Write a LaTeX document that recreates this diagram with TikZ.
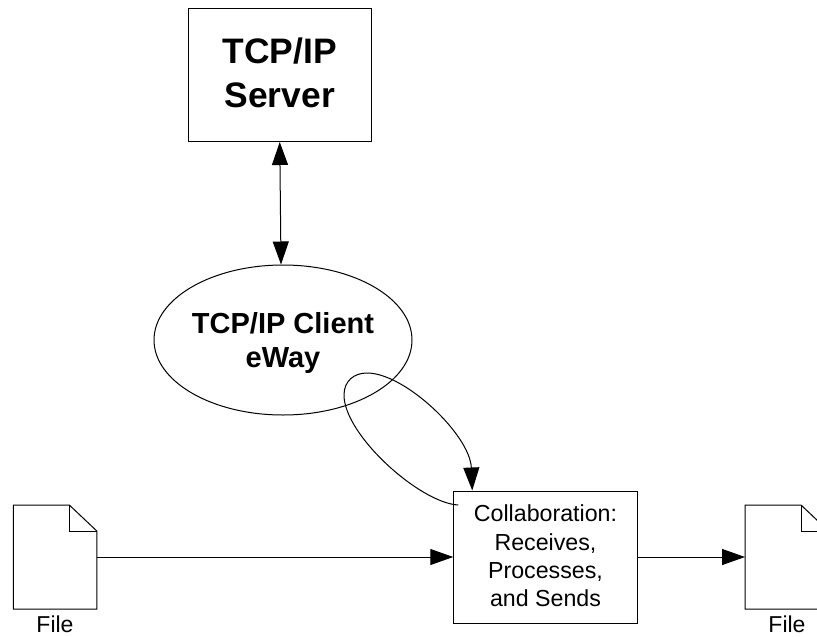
\documentclass[tikz,border=0pt]{standalone}
\usepackage{fontspec}
\setmainfont{Liberation Sans}
\usetikzlibrary{shapes.geometric, arrows.meta, positioning, calc}
\tikzset{
  box/.style     = {draw, line width=1pt, minimum width=183.5pt, minimum height=132pt, align=center, inner sep=0pt},
  eway/.style    = {draw, ellipse, line width=1pt, minimum width=258pt, minimum height=150pt, align=center, inner sep=0pt},
  flow/.style    = {line width=1pt, -{Triangle[length=23pt,width=16pt]}},
  twoway/.style  = {line width=1pt, {Triangle[length=23pt,width=16pt]}-{Triangle[length=23pt,width=16pt]}},
  filelabel/.style = {font=\fontsize{23}{26}\selectfont, inner sep=0pt}
}
\begin{document}
\begin{tikzpicture}[x=1pt, y=-1pt]
\useasboundingbox (0,0) rectangle (817,637);

% Top half
\node[box, minimum height=133pt, text depth=5pt, font=\fontsize{35.4}{44}\selectfont\bfseries] at (279.75, 75) (server) {TCP/IP\\Server};
\node[eway, text depth=0pt, font=\fontsize{29}{34}\selectfont\bfseries] at (283, 340) (client) {\rule{0pt}{20pt}TCP/IP Client\\eWay};

\draw[twoway] (server.south) -- ($(client.north) + (-2, 0)$);

% Collaboration and files
\node[box, text depth=2.5pt, font=\fontsize{23.2}{28.3}\selectfont] at (545.5, 557) (collab) {Collaboration:\\Receives,\\Processes,\\and Sends};

\coordinate (infile) at (13.3, 505);
\coordinate (outfile) at (745, 505);

\draw[line width=1pt] (infile) -- ++(56, 0) coordinate (infold) -- ++(27.5, 26) coordinate (inedge) -- ++(0, 78) -- ++(-83.5, 0) -- cycle;
\draw[line width=1pt] (infold) |- (inedge);
\draw[line width=1pt] (outfile) -- ++(56, 0) coordinate (outfold) -- ++(27.5, 26) coordinate (outedge) -- ++(0, 78) -- ++(-83.5, 0) -- cycle;
\draw[line width=1pt] (outfold) |- (outedge);

\node[filelabel] at (55, 624.5) (inlabel) {File};
\node[filelabel] at (787, 624.5) (outlabel) {File};

\coordinate (inport) at (96.8, 557);
\coordinate (outport) at (745, 557);
\draw[flow] (inport) -- (collab.west);
\draw[flow] (collab.east) -- (outport);

% Loop through the eWay
\draw[flow] ($(collab.north west) + (5, 14.5)$)
    .. controls (420, 503) and (344, 435) .. (344, 395)
    .. controls (344, 381) and (354, 373) .. (367, 373)
    .. controls (405, 373) and (470, 435) .. ($(collab.north west) + (19, 0)$);

\end{tikzpicture}
\end{document}
